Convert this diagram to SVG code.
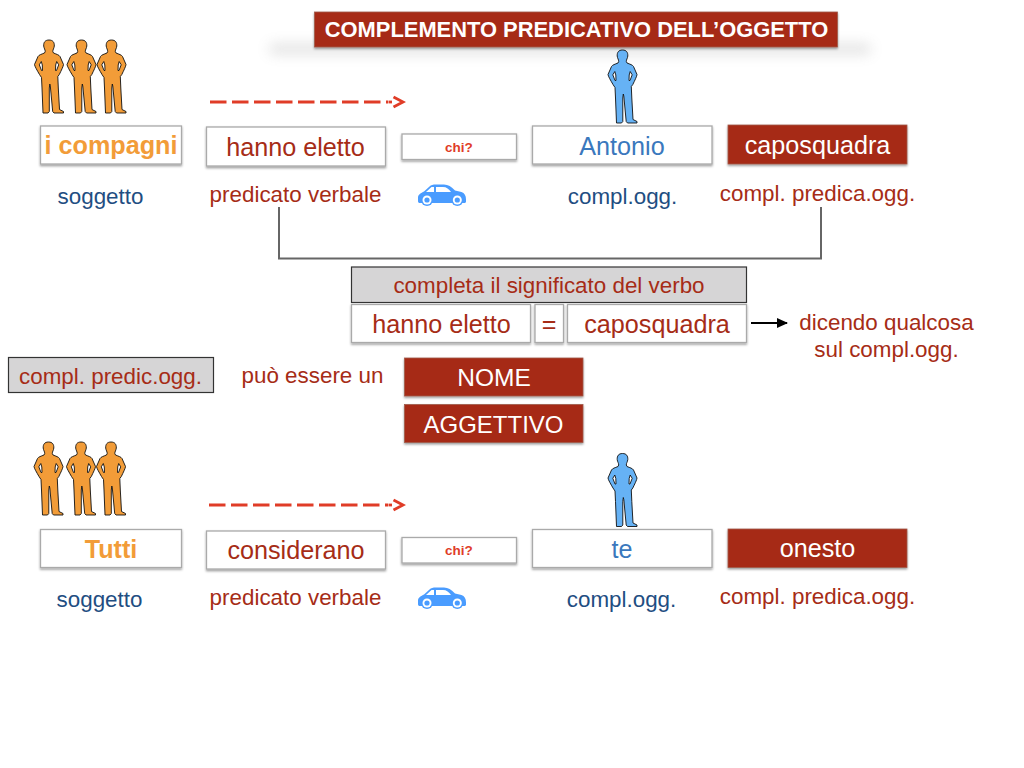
<svg xmlns="http://www.w3.org/2000/svg" width="1024" height="768" viewBox="0 0 1024 768">
<style>
text{font-family:"Liberation Sans",Arial,sans-serif;text-anchor:middle}
.w{fill:#fff;stroke:#aaa;stroke-width:1.3;filter:url(#sh)}
.r{fill:#a62c16;stroke:#a05a4a;stroke-width:.8;filter:url(#sh)}
.g{fill:#d6d5d6;stroke:#333;stroke-width:1.2}
.t24{font-size:25.2px;fill:#a62c16}
.t20{font-size:22.400px;fill:#a62c16}
.b{font-size:22.400px;fill:#1f4e82}
.wt{font-size:25.200px;fill:#fff}
.dash{fill:none;stroke:#e03c27;stroke-width:2.800}
.o{fill:#f29c38;stroke:#111;stroke-width:.9;fill-rule:evenodd}
.bl{fill:#66b2f5;stroke:#111;stroke-width:.9;fill-rule:evenodd}
.cb{fill:#4a9cff}
.cw{fill:#fff}
</style>
<defs>
<filter id="sh" x="-10%" y="-20%" width="120%" height="150%"><feDropShadow dx="0" dy="1.500" stdDeviation="1.200" flood-color="#000" flood-opacity=".4"/></filter>
<filter id="blur" x="-20%" y="-400%" width="140%" height="900%"><feGaussianBlur stdDeviation="7"/></filter>
<marker id="ah" markerWidth="11" markerHeight="10" refX="10" refY="5" orient="auto" markerUnits="userSpaceOnUse"><path d="M0 0L11 5L0 10Z" fill="#000"/></marker>
<path id="man" d="M14.500 0C18.500 0 20 2.500 19.800 6C19.500 8.500 18.300 9.500 18.300 11.500L19 13C22 14.300 24.500 14.800 25.500 16.500L29 24.500C29 26 26.500 31 24.800 34.500L23.300 36.500L23.800 48L25 69.500L29 71.500L29 73L19.500 73L18.200 71.500L15.800 46L15.300 44L14.800 48L14.800 71.500L13.500 73L8.500 73L7.500 48L7 37.500L5 34.500C3 31 0 26 0 24.500L3.500 16.500C4.500 14.800 7 14.300 10 13L10.700 11.500C10.700 9.500 9.500 8.500 9.200 6C9 2.500 10.500 0 14.500 0ZM6.800 21.500L4.800 24.800L7 30.500L8 30.500L7.800 25ZM22.200 21.500L24.200 24.800L22 30.500L21 30.500L21.200 25Z"/>
<g id="auto">
<path class="cb" d="M0 13C0 10 3 8.500 6 7L11.500 2C13 .6 15 0 18 0L26 0C30 0 33.500 2 37 6L43.500 7.500C46.500 8.500 48 11 48 15L48 17C48 18 47 18.500 46 18.500L2 18.500C.7 18.500 0 18 0 16.500Z"/>
<path class="cw" d="M8 7.500L13.500 2.500L16 2.500L16 7.500ZM18 2.500L25 2.500C28.500 2.500 31 4.500 33 7.500L18 7.500Z"/>
<circle class="cb" cx="9" cy="15.500" r="6"/><circle class="cw" cx="9" cy="15.500" r="4.500"/><circle class="cb" cx="9" cy="15.500" r="2.600"/>
<circle class="cb" cx="39.300" cy="15.500" r="6"/><circle class="cw" cx="39.300" cy="15.500" r="4.500"/><circle class="cb" cx="39.300" cy="15.500" r="2.600"/>
</g>
</defs>

<g id="connectors">
<path class="dash" stroke-dasharray="16.500 5.500" d="M210 102H388"/>
<path class="dash" d="M388.500 102H392"/>
<path class="dash" d="M393.500 97L403 102L393.500 107"/>
<path class="dash" stroke-dasharray="16.500 5.500" d="M209 505H388"/>
<path class="dash" d="M388.500 505H392"/>
<path class="dash" d="M393.500 500L403 505L393.500 510"/>
<path d="M279 207V258.500H821V207" fill="none" stroke="#666" stroke-width="2"/>
<path d="M751 323H787" fill="none" stroke="#000" stroke-width="1.800" marker-end="url(#ah)"/>
</g>

<g id="titolo">
<rect x="270" y="45" width="600" height="8" fill="#777" opacity=".28" filter="url(#blur)"/>
<rect class="r" x="314.500" y="12" width="523" height="35"/>
<text x="576.500" y="37" font-size="21.900" font-weight="bold" fill="#fff">COMPLEMENTO PREDICATIVO DELL’OGGETTO</text>
</g>

<g id="persone1">
<use href="#man" class="o" x="34.500" y="40"/><use href="#man" class="o" x="67" y="40"/><use href="#man" class="o" x="97" y="40"/>
</g>
<g id="n-compagni"><rect class="w" x="40.500" y="126" width="141" height="38"/><text x="111" y="154" font-size="25.200" font-weight="bold" fill="#f29c38">i compagni</text></g>
<g id="n-soggetto1"><text class="b" x="100.500" y="204">soggetto</text></g>
<g id="n-hanno"><rect class="w" x="206.500" y="127" width="179" height="39"/><text class="t24" x="295.500" y="156">hanno eletto</text></g>
<g id="n-pred1"><text class="t20" x="295.500" y="202">predicato verbale</text></g>
<g id="n-chi1"><rect class="w" x="402" y="134" width="114.500" height="25.500"/><text x="459" y="152" font-size="13.500" font-weight="bold" fill="#e03c27">chi?</text></g>
<use id="auto1" href="#auto" x="418" y="184.500"/>
<g id="persona1"><use href="#man" class="bl" x="608" y="50"/></g>
<g id="n-antonio"><rect class="w" x="532.500" y="126" width="179.500" height="38"/><text x="622" y="155" font-size="25.200" fill="#3a78bd">Antonio</text></g>
<g id="n-ogg1"><text class="b" x="622.500" y="204">compl.ogg.</text></g>
<g id="n-capo1"><rect class="r" x="728" y="125" width="179" height="39"/><text class="wt" x="817.500" y="154">caposquadra</text></g>
<g id="n-predogg1"><text class="t20" x="817.500" y="201">compl. predica.ogg.</text></g>

<g id="n-completa"><rect class="g" x="351.500" y="267" width="395" height="35.500"/><text class="t20" x="549" y="293">completa il significato del verbo</text></g>
<g id="n-hanno2"><rect class="w" x="351.500" y="304.500" width="179" height="38"/><text class="t24" x="441.500" y="333">hanno eletto</text></g>
<g id="n-uguale"><rect class="w" x="535" y="304.500" width="28.500" height="38"/><text class="t24" x="549" y="333">=</text></g>
<g id="n-capo2"><rect class="w" x="567.500" y="304.500" width="179" height="38"/><text class="t24" x="657" y="333">caposquadra</text></g>
<g id="n-dicendo"><text class="t20" x="886.500" y="330">dicendo qualcosa</text><text class="t20" x="886.500" y="357">sul compl.ogg.</text></g>

<g id="n-predic"><rect class="g" x="8.500" y="357.500" width="205" height="35"/><text class="t20" x="110.500" y="384">compl. predic.ogg.</text></g>
<g id="n-puo"><text class="t20" x="312.500" y="383">può essere un</text></g>
<g id="n-nome"><rect class="r" x="404.500" y="358" width="178.500" height="38"/><text class="wt" x="494" y="386" style="font-size:24.500px">NOME</text></g>
<g id="n-agg"><rect class="r" x="404.500" y="404.500" width="178.500" height="38"/><text class="wt" x="493.500" y="433" style="font-size:24px">AGGETTIVO</text></g>

<g id="persone2">
<use href="#man" class="o" x="34" y="442"/><use href="#man" class="o" x="66.500" y="442"/><use href="#man" class="o" x="96.500" y="442"/>
</g>
<g id="n-tutti"><rect class="w" x="40.500" y="529.500" width="141" height="38"/><text x="111" y="558" font-size="25.200" font-weight="bold" fill="#f29c38">Tutti</text></g>
<g id="n-soggetto2"><text class="b" x="99.500" y="607">soggetto</text></g>
<g id="n-consid"><rect class="w" x="206.500" y="531" width="179" height="38"/><text class="t24" x="296" y="559">considerano</text></g>
<g id="n-pred2"><text class="t20" x="295.500" y="605">predicato verbale</text></g>
<g id="n-chi2"><rect class="w" x="402" y="537.500" width="114.500" height="25.500"/><text x="459" y="555" font-size="13.500" font-weight="bold" fill="#e03c27">chi?</text></g>
<use id="auto2" href="#auto" x="418" y="587.500"/>
<g id="persona2"><use href="#man" class="bl" x="608" y="453.500"/></g>
<g id="n-te"><rect class="w" x="532.500" y="529.500" width="179.500" height="38"/><text x="622" y="558" font-size="25.200" fill="#3a78bd">te</text></g>
<g id="n-ogg2"><text class="b" x="621.500" y="607">compl.ogg.</text></g>
<g id="n-onesto"><rect class="r" x="728" y="529" width="179" height="38.500"/><text class="wt" x="817.500" y="557">onesto</text></g>
<g id="n-predogg2"><text class="t20" x="817.500" y="604">compl. predica.ogg.</text></g>
</svg>
